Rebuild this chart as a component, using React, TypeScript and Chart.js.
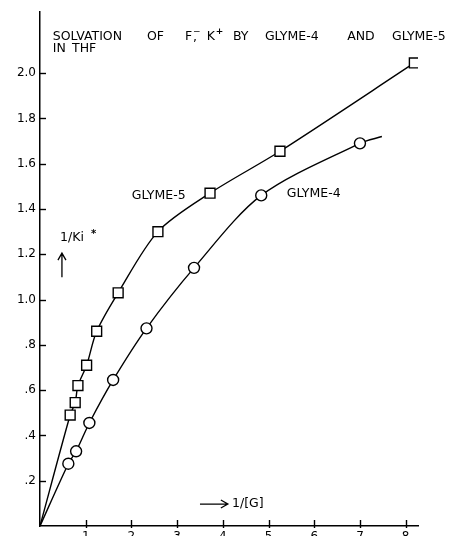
import React, { useEffect, useRef } from "react";
import { Chart, registerables } from "chart.js";

Chart.register(...registerables);

// ---- data ----
const glyme5X = [0.66, 0.77, 0.83, 1.02, 1.24, 1.71, 2.58, 3.72, 5.25, 8.19];
const glyme5Y = [0.49, 0.545, 0.62, 0.71, 0.86, 1.03, 1.30, 1.47, 1.655, 2.045];
const glyme4X = [0.62, 0.79, 1.08, 1.60, 2.33, 3.37, 4.84, 7.0];
const glyme4Y = [0.275, 0.33, 0.455, 0.645, 0.873, 1.14, 1.46, 1.69];
const curveOrigin = { x: 0, y: 0 };
const glyme4Tail = { x: 7.48, y: 1.72 };

const xTickValues = [1, 2, 3, 4, 5, 6, 7, 8];
const xTickLabels = ["1", "2", "3", "4", "5", "6", "7", "8"];
const yTickValues = [0.2, 0.4, 0.6, 0.8, 1.0, 1.2, 1.4, 1.6, 1.8, 2.0];
const yTickLabels = [".2", ".4", ".6", ".8", "1.0", "1.2", "1.4", "1.6", "1.8", "2.0"];

const X_MAX = 8.27;
const Y_MAX = 2.27;

const FONT = "DejaVu Sans";

// annotation texts anchored in data coordinates
const titleWords1 = [
  { t: "SOLVATION", x: 0.28 },
  { t: "OF", x: 2.34 },
  { t: "BY", x: 4.22 },
  { t: "GLYME-4", x: 4.92 },
  { t: "AND", x: 6.72 },
  { t: "GLYME-5", x: 7.7 },
];
const titleY1 = 2.16;
const titleWords2 = [
  { t: "IN", x: 0.28 },
  { t: "THF", x: 0.7 },
];
const titleY2 = 2.106;

const seriesLabels = [
  { t: "GLYME-5", x: 2.01, y: 1.457 },
  { t: "GLYME-4", x: 5.4, y: 1.466 },
];

const xs = (arr: number[], ys: number[]) => arr.map((v, i) => ({ x: v, y: ys[i] }));

const annotationPlugin = {
  id: "annotations",
  afterDraw(chart: any) {
    const { ctx, chartArea } = chart;
    const xS = chart.scales.x;
    const yS = chart.scales.y;
    const px = (v: number) => xS.getPixelForValue(v);
    const py = (v: number) => yS.getPixelForValue(v);
    ctx.save();
    ctx.strokeStyle = "#000";
    ctx.fillStyle = "#000";
    ctx.lineWidth = 1.4;
    // inward tick marks
    yTickValues.forEach((v) => {
      const y = Math.round(py(v)) + 0.5;
      ctx.beginPath();
      ctx.moveTo(chartArea.left, y);
      ctx.lineTo(chartArea.left + 6, y);
      ctx.stroke();
    });
    xTickValues.forEach((v) => {
      const x = Math.round(px(v)) + 0.5;
      ctx.beginPath();
      ctx.moveTo(x, chartArea.bottom + 2);
      ctx.lineTo(x, chartArea.bottom - 6);
      ctx.stroke();
    });

    ctx.textBaseline = "middle";
    ctx.textAlign = "left";
    const f12 = `12.5px "${FONT}"`;
    ctx.font = f12;
    titleWords1.forEach((w) => ctx.fillText(w.t, px(w.x), py(titleY1)));
    titleWords2.forEach((w) => ctx.fillText(w.t, px(w.x), py(titleY2)));
    // F-, K+
    const fx = px(3.17);
    const ty = py(titleY1);
    ctx.fillText("F", fx, ty);
    ctx.font = `9px "${FONT}"`;
    ctx.fillText("\u2212", fx + 8, ty - 5);
    ctx.font = f12;
    ctx.fillText(",", fx + 8, ty + 1);
    const kx = px(3.65);
    ctx.fillText("K", kx, ty);
    ctx.font = `bold 9px "${FONT}"`;
    ctx.fillText("+", kx + 9, ty - 5);

    ctx.font = f12;
    seriesLabels.forEach((l) => ctx.fillText(l.t, px(l.x), py(l.y)));

    // y axis label with up arrow
    ctx.fillText("1/Ki", px(0.44), py(1.272));
    ctx.font = `bold 10px "${FONT}"`;
    ctx.fillText("*", px(0.44) + 31, py(1.272) - 4);
    const ax = px(0.48);
    ctx.lineWidth = 1.3;
    ctx.beginPath();
    ctx.moveTo(ax, py(1.099));
    ctx.lineTo(ax, py(1.205));
    ctx.moveTo(ax - 4, py(1.205) + 7);
    ctx.lineTo(ax, py(1.205));
    ctx.lineTo(ax + 4, py(1.205) + 7);
    ctx.stroke();

    // x axis label with right arrow
    const ay = py(0.097);
    ctx.beginPath();
    ctx.moveTo(px(3.5), ay);
    ctx.lineTo(px(4.11), ay);
    ctx.moveTo(px(4.11) - 7, ay - 4);
    ctx.lineTo(px(4.11), ay);
    ctx.lineTo(px(4.11) - 7, ay + 4);
    ctx.stroke();
    ctx.font = f12;
    ctx.fillText("1/[G]", px(4.2), ay);
    ctx.restore();
  },
};

export default function App() {
  const ref = useRef<HTMLCanvasElement | null>(null);
  useEffect(() => {
    if (!ref.current) return;
    const chart = new Chart(ref.current, {
      type: "scatter",
      data: {
        datasets: [
          {
            label: "GLYME-5 curve",
            data: [curveOrigin, ...xs(glyme5X, glyme5Y)],
            showLine: true,
            borderColor: "#000",
            borderWidth: 1.4,
            pointRadius: 0,
            tension: 0.3,
            order: 3,
          },
          {
            label: "GLYME-4 curve",
            data: [curveOrigin, ...xs(glyme4X, glyme4Y), glyme4Tail],
            showLine: true,
            borderColor: "#000",
            borderWidth: 1.4,
            pointRadius: 0,
            tension: 0.3,
            order: 3,
          },
          {
            label: "GLYME-5",
            data: xs(glyme5X, glyme5Y),
            showLine: false,
            pointStyle: "rect",
            pointRadius: 7,
            pointBackgroundColor: "#fff",
            pointBorderColor: "#000",
            pointBorderWidth: 1.4,
            order: 1,
          },
          {
            label: "GLYME-4",
            data: xs(glyme4X, glyme4Y),
            showLine: false,
            pointStyle: "circle",
            pointRadius: 5.5,
            pointBackgroundColor: "#fff",
            pointBorderColor: "#000",
            pointBorderWidth: 1.4,
            order: 1,
          },
        ],
      },
      options: {
        animation: false,
        responsive: false,
        devicePixelRatio: 1,
        layout: { padding: { top: 12, right: 31, left: 0, bottom: 0 } },
        plugins: { legend: { display: false }, tooltip: { enabled: false }, title: { display: false } },
        scales: {
          x: {
            type: "linear",
            min: 0,
            max: X_MAX,
            afterBuildTicks: (s: any) => {
              s.ticks = xTickValues.map((v) => ({ value: v }));
            },
            afterFit: (s: any) => {
              s.height = 24;
            },
            grid: { display: true, drawOnChartArea: false, drawTicks: false },
            border: { display: true, color: "#000", width: 1.5 },
            ticks: {
              color: "#000",
              padding: 4,
              maxRotation: 0,
              autoSkip: false,
              font: { family: FONT, size: 12 },
              callback: (v: any) => {
                const i = xTickValues.indexOf(Number(v));
                return i >= 0 ? xTickLabels[i] : "";
              },
            },
          },
          y: {
            type: "linear",
            min: 0,
            max: Y_MAX,
            afterBuildTicks: (s: any) => {
              s.ticks = yTickValues.map((v) => ({ value: v }));
            },
            afterFit: (s: any) => {
              s.width = 40;
            },
            grid: { display: true, drawOnChartArea: false, drawTicks: false },
            border: { display: true, color: "#000", width: 1.5 },
            ticks: {
              color: "#000",
              padding: 4,
              autoSkip: false,
              font: { family: FONT, size: 12 },
              callback: (v: any) => {
                const i = yTickValues.findIndex((t) => Math.abs(t - Number(v)) < 1e-6);
                return i >= 0 ? yTickLabels[i] : "";
              },
            },
          },
        },
      },
      plugins: [annotationPlugin],
    });
    return () => chart.destroy();
  }, []);
  return (
    <div
      style={{
        position: "fixed",
        top: 0,
        left: 0,
        width: 449,
        height: 536,
        overflow: "hidden",
        background: "#fff",
      }}
    >
      <canvas ref={ref} width={449} height={550} style={{ display: "block", width: 449, height: 550 }} />
    </div>
  );
}
